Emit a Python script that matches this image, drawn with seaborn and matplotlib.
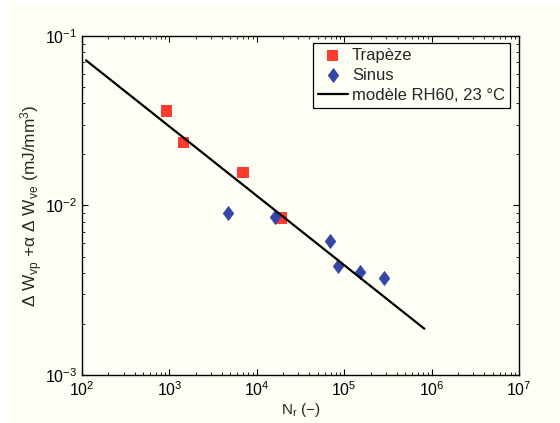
import matplotlib
matplotlib.use("Agg")
import matplotlib.pyplot as plt
from matplotlib.patches import Rectangle
import seaborn as sns
import numpy as np
from matplotlib.ticker import LogLocator, NullFormatter

# ---- data ----
trap_N = [922, 1443, 6950, 19000]
trap_W = [0.0361, 0.0236, 0.0157, 0.00844]

sinus_N = [4690, 16100, 68900, 84200, 151000, 285000]
sinus_W = [0.0090, 0.0085, 0.00618, 0.00440, 0.00404, 0.00373]

model_N = [111, 826000]
model_W = [0.0719, 0.001875]

labels = ["Trapèze", "Sinus", "modèle RH60, 23 °C"]

bg = "#FEFEF4"
red = "#FF3B30"
blue = "#3446A6"

sns.set_style("ticks")
plt.rcParams["font.family"] = ["Liberation Sans", "DejaVu Sans"]
plt.rcParams["mathtext.fontset"] = "custom"
plt.rcParams["mathtext.rm"] = "Liberation Sans"
plt.rcParams["mathtext.it"] = "Liberation Sans:italic"
plt.rcParams["mathtext.default"] = "regular"

fig = plt.figure(figsize=(5.6, 4.23), dpi=100, facecolor="white")
fig.patches.append(Rectangle((8 / 560, 0), 1, 1 - 3 / 423, transform=fig.transFigure,
                             facecolor=bg, edgecolor="none", zorder=-10))
ax = fig.add_axes([0.1464, 0.1135, 0.7804, 0.8014])
ax.set_facecolor(bg)

diamond = [(0, 1), (0.75, 0), (0, -1), (-0.75, 0), (0, 1)]

sns.scatterplot(x=trap_N, y=trap_W, marker="s", color=red, s=64,
                edgecolor="none", linewidth=0, label=labels[0], ax=ax, zorder=2)
sns.scatterplot(x=sinus_N, y=sinus_W, marker=diamond, color=blue, s=110,
                edgecolor=blue, linewidth=0.3, label=labels[1], ax=ax, zorder=2)
sns.lineplot(x=model_N, y=model_W, color="black", linewidth=1.6,
             label=labels[2], ax=ax, zorder=3)

ax.set_xscale("log")
ax.set_yscale("log")
ax.set_xlim(1e2, 1e7)
ax.set_ylim(1e-3, 1e-1)

ax.xaxis.set_major_locator(LogLocator(base=10, numticks=10))
ax.yaxis.set_major_locator(LogLocator(base=10, numticks=10))
ax.xaxis.set_minor_locator(LogLocator(base=10, subs=np.arange(2, 10), numticks=20))
ax.yaxis.set_minor_locator(LogLocator(base=10, subs=np.arange(2, 10), numticks=20))
ax.xaxis.set_minor_formatter(NullFormatter())
ax.yaxis.set_minor_formatter(NullFormatter())

ax.tick_params(which="both", direction="in", top=True, right=True,
               colors="black", labelsize=11.5)
ax.tick_params(which="major", length=4, width=0.8)
ax.tick_params(which="minor", length=2, width=0.6)
for sp in ax.spines.values():
    sp.set_color("black")
    sp.set_linewidth(1.0)

ax.set_xlabel("N$_r$ (−)", fontsize=11, labelpad=2)
ax.set_ylabel("Δ W$_{vp}$ +α Δ W$_{ve}$ (mJ/mm$^3$)", fontsize=12.4, labelpad=0)

leg = ax.legend(loc="upper right", bbox_to_anchor=(510 / 560, 1 - 42.7 / 423),
                bbox_transform=fig.transFigure, borderaxespad=0,
                frameon=True, fancybox=False, fontsize=12,
                borderpad=0.3, handlelength=1.8, handletextpad=0.25,
                labelspacing=0.3)
leg.get_frame().set_edgecolor("black")
leg.get_frame().set_linewidth(0.9)
leg.get_frame().set_facecolor(bg)
leg.get_frame().set_alpha(1)

fig.savefig("out.png", dpi=100, facecolor="white")
